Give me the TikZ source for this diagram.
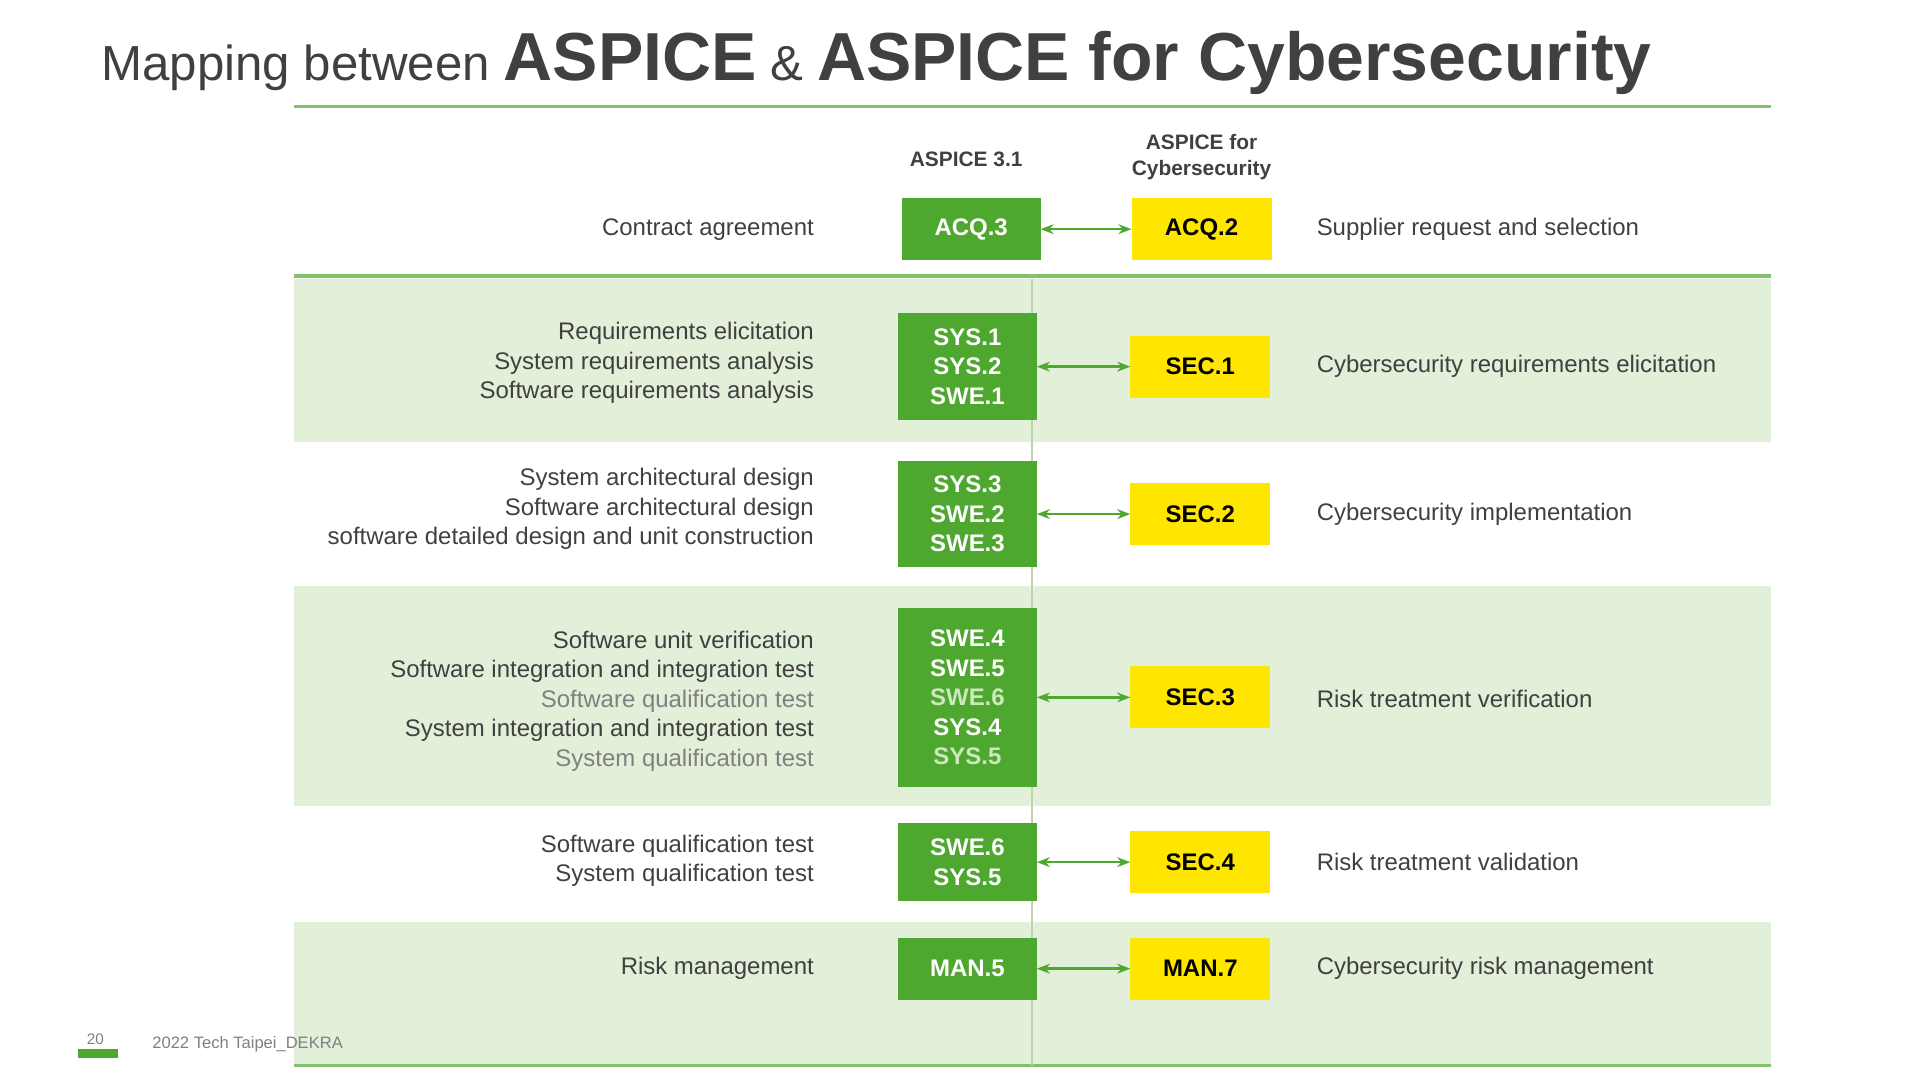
\documentclass[tikz,border=0pt]{standalone}
\usepackage{fontspec}
\setmainfont{Liberation Sans}
\usetikzlibrary{arrows.meta}
\definecolor{dkgreen}{RGB}{78,167,46}
\definecolor{ltgreen}{RGB}{226,239,217}
\definecolor{cyyellow}{RGB}{255,230,0}
\definecolor{txtgray}{RGB}{64,64,64}
\definecolor{ltgray}{RGB}{128,128,128}
\definecolor{paleg}{RGB}{205,232,190}
\newcommand{\bodyfont}{\fontsize{5.5}{6.8}\selectfont}
\begin{document}
\begin{tikzpicture}[x=0.01cm,y=-0.01cm,
    every node/.style={inner sep=0pt,outer sep=0pt},
    greenbox/.style={fill=dkgreen,text=white,font=\bodyfont\bfseries,align=center,minimum width=1.12cm,anchor=center},
    yellowbox/.style={fill=cyyellow,text=black,font=\bodyfont\bfseries,minimum width=1.13cm,minimum height=0.5cm},
    lefttext/.style={anchor=east,align=right,text=txtgray,font=\bodyfont},
    righttext/.style={anchor=west,text=txtgray,font=\bodyfont},
    band/.style={fill=ltgreen,draw=none},
    link/.style={{Stealth[length=3pt]}-{Stealth[length=3pt]},dkgreen,semithick}]
	\useasboundingbox (0,0) rectangle (1550,872);

	% title and rules
	\node[anchor=base west,text=txtgray,font=\fontsize{11.3}{14}\selectfont] (title) at (82,65)
		{Mapping between {\fontsize{15.6}{18}\selectfont\bfseries ASPICE} \& {\fontsize{15.6}{18}\selectfont\bfseries ASPICE for Cybersecurity}};
	\draw[dkgreen!70,thick] (237,86) -- (1430,86);
	\node[font=\fontsize{4.8}{6}\selectfont\bfseries,text=txtgray] (hdA) at (780,129) {ASPICE 3.1};
	\node[font=\fontsize{4.8}{6}\selectfont\bfseries,text=txtgray,align=center] (hdB) at (970,127) {ASPICE for\\Cybersecurity};

	% shaded bands
	\fill[band] (237,225) rectangle (1430,357);
	\fill[band] (237,473) rectangle (1430,651);
	\fill[band] (237,744) rectangle (1430,860);
	\draw[dkgreen!70,thick] (237,223) -- (1430,223);
	\draw[dkgreen!70,thick] (237,860) -- (1430,860);
	\draw[paleg!80!gray,thin] (833,225) -- (833,860);

	% row 1
	\node[greenbox,minimum height=0.5cm] (acq3) at (784,185) {ACQ.3};
	\node[yellowbox] (acq2) at (970,185) {ACQ.2};
	\node[lefttext] (l1) at (657,185) {Contract agreement};
	\node[righttext] (r1) at (1063,185) {Supplier request and selection};
	\draw[link] (acq3) -- (acq2);

	% row 2
	\node[greenbox,minimum height=0.86cm] (req) at (781,296) {SYS.1\\SYS.2\\SWE.1};
	\node[yellowbox] (sec1) at (969,296) {SEC.1};
	\node[lefttext] (l2) at (657,293) {Requirements elicitation\\System requirements analysis\\Software requirements analysis};
	\node[righttext] (r2) at (1063,296) {Cybersecurity requirements elicitation};
	\draw[link] (req) -- (sec1);

	% row 3
	\node[greenbox,minimum height=0.86cm] (arch) at (781,415) {SYS.3\\SWE.2\\SWE.3};
	\node[yellowbox] (sec2) at (969,415) {SEC.2};
	\node[lefttext] (l3) at (657,411) {System architectural design\\Software architectural design\\software detailed design and unit construction};
	\node[righttext] (r3) at (1063,415) {Cybersecurity implementation};
	\draw[link] (arch) -- (sec2);

	% row 4
	\node[greenbox,minimum height=1.45cm] (ver) at (781,563) {SWE.4\\SWE.5\\{\color{paleg}SWE.6}\\SYS.4\\{\color{paleg}SYS.5}};
	\node[yellowbox] (sec3) at (969,563) {SEC.3};
	\node[lefttext] (l4) at (657,566) {Software unit verification\\Software integration and integration test\\{\color{ltgray}Software qualification test}\\System integration and integration test\\{\color{ltgray}System qualification test}};
	\node[righttext] (r4) at (1063,564) {Risk treatment verification};
	\draw[link] (ver) -- (sec3);

	% row 5
	\node[greenbox,minimum height=0.63cm] (qual) at (781,696) {SWE.6\\SYS.5};
	\node[yellowbox] (sec4) at (969,696) {SEC.4};
	\node[lefttext] (l5) at (657,695) {Software qualification test\\System qualification test};
	\node[righttext] (r5) at (1063,696) {Risk treatment validation};
	\draw[link] (qual) -- (sec4);

	% row 6
	\node[greenbox,minimum height=0.5cm] (man5) at (781,782) {MAN.5};
	\node[yellowbox] (man7) at (969,782) {MAN.7};
	\node[lefttext] (l6) at (657,782) {Risk management};
	\node[righttext] (r6) at (1063,782) {Cybersecurity risk management};
	\draw[link] (man5) -- (man7);

	% footer
	\fill[dkgreen] (63,847) rectangle (95,854);
	\node[text=ltgray,font=\fontsize{3.5}{4}\selectfont] (page) at (77,839) {20};
	\node[anchor=west,text=ltgray,font=\fontsize{3.8}{4.5}\selectfont] (foot) at (123,843) {2022 Tech Taipei\_DEKRA};
\end{tikzpicture}
\end{document}
